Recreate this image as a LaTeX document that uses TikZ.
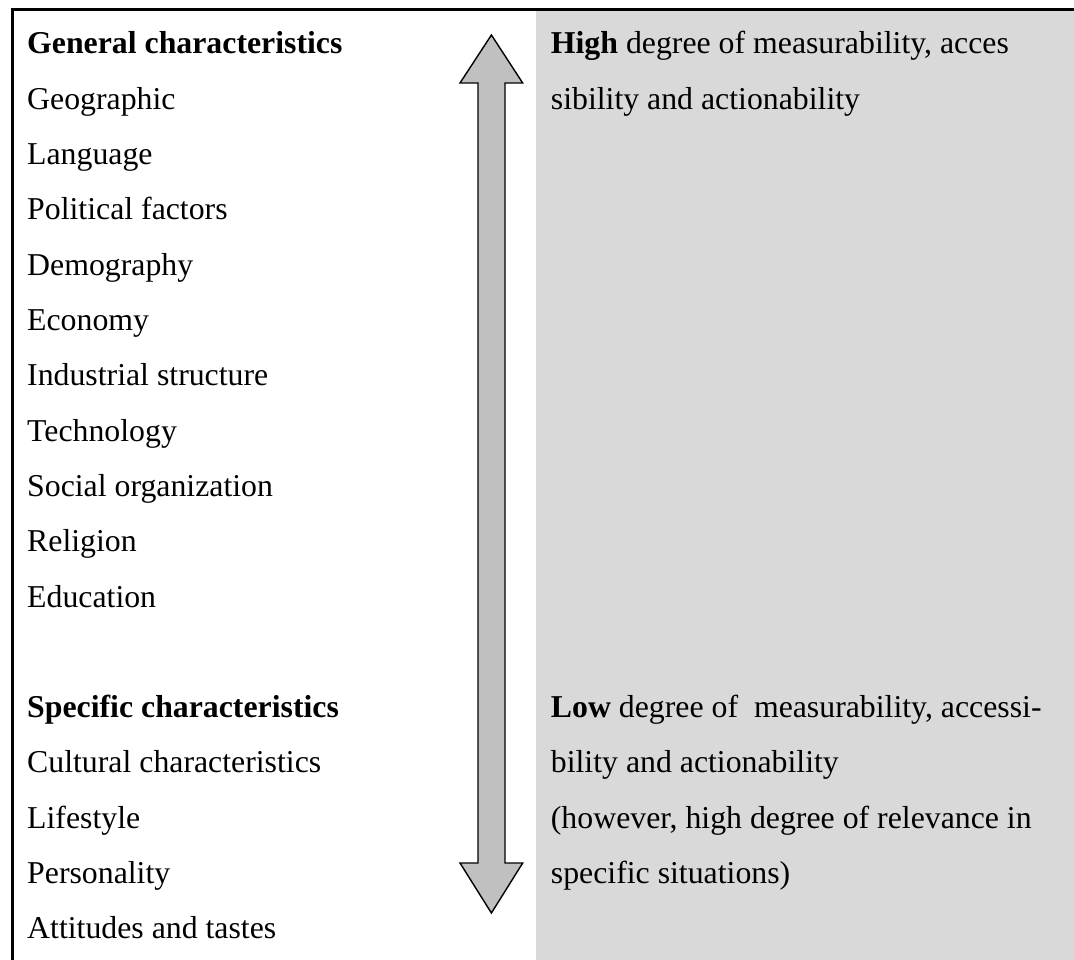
\documentclass[tikz,border=0pt]{standalone}
\usepackage{fontspec}
\setmainfont{Liberation Serif}
\definecolor{panelgrey}{HTML}{D9D9D9}
\definecolor{arrowgrey}{HTML}{C0C0C0}
\begin{document}
\begin{tikzpicture}[x=1pt,y=-1pt,
  txt/.style={anchor=base west,inner sep=0pt,font=\fontsize{31.8}{38}\selectfont},
  frame/.style={line width=2.6pt,line join=miter,line cap=rect}]
\useasboundingbox (0,0) rectangle (1074,960);

% shaded right-hand panel
\fill[panelgrey] (536,11) rectangle (1074,960);

% outer frame (top and left edges)
\draw[frame] (12.5,960) -- (12.5,9.5) -- (1074,9.5);

% double-headed vertical arrow
\draw[fill=arrowgrey,line width=1.4pt,line join=miter]
  (491.4,35) -- (522.7,83) -- (505,83) -- (505,863) -- (522.7,863)
  -- (491.4,913) -- (460,863) -- (478,863) -- (478,83) -- (460,83) -- cycle;

% left column
\def\lx{27}
\node[txt] (gen)   at (\lx,54)    {\textbf{General characteristics}};
\node[txt] (geo)   at (\lx,109.3) {Geographic};
\node[txt] (lang)  at (\lx,164.6) {Language};
\node[txt] (pol)   at (\lx,219.9) {Political factors};
\node[txt] (demo)  at (\lx,275.2) {Demography};
\node[txt] (eco)   at (\lx,330.5) {Economy};
\node[txt] (ind)   at (\lx,385.8) {Industrial structure};
\node[txt] (tech)  at (\lx,441.1) {Technology};
\node[txt] (soc)   at (\lx,496.4) {Social organization};
\node[txt] (rel)   at (\lx,551.7) {Religion};
\node[txt] (edu)   at (\lx,607.0) {Education};
\node[txt] (spec)  at (\lx,717.6) {\textbf{Specific characteristics}};
\node[txt] (cult)  at (\lx,772.9) {Cultural characteristics};
\node[txt] (life)  at (\lx,828.2) {Lifestyle};
\node[txt] (pers)  at (\lx,883.5) {Personality};
\node[txt] (att)   at (\lx,938.8) {Attitudes and tastes};

% right column
\def\rx{550.7}
\node[txt] (high1) at (\rx,54)    {\textbf{High} degree of measurability, acces};
\node[txt] (high2) at (\rx,109.3) {sibility and actionability};
\node[txt] (low1)  at (\rx,717.6) {\textbf{Low} degree of\ \ measurability, accessi-};
\node[txt] (low2)  at (\rx,772.9) {bility and actionability};
\node[txt] (low3)  at (\rx,828.2) {(however, high degree of relevance in};
\node[txt] (low4)  at (\rx,883.5) {specific situations)};
\end{tikzpicture}
\end{document}
